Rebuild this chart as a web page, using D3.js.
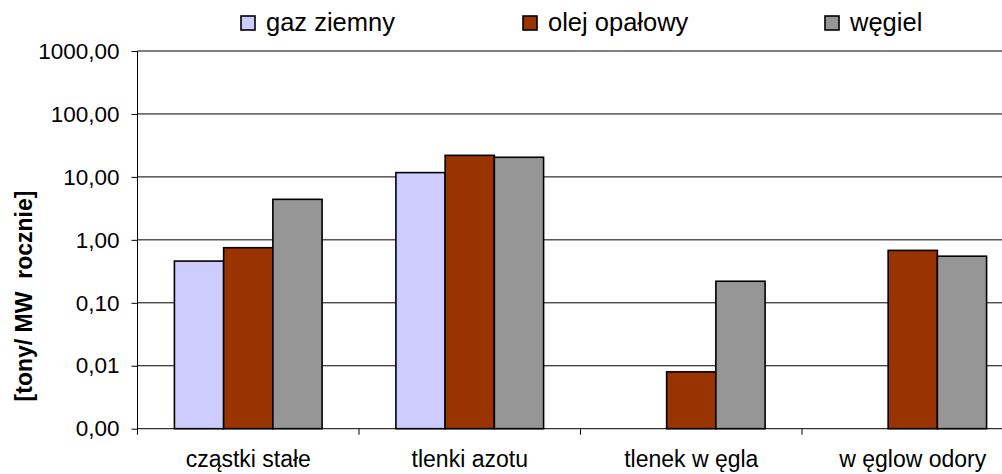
<!DOCTYPE html>
<html><head><meta charset="utf-8">
<script src="https://cdn.jsdelivr.net/npm/d3@7"></script>
<style>
html,body{margin:0;padding:0;background:#fff;overflow:hidden}
text{font-family:"Liberation Sans",Arial,sans-serif;fill:#000}
</style></head>
<body>
<script>
const categories = ["cząstki stałe", "tlenki azotu", "tlenek w ęgla", "w ęglow odory"];
const seriesNames = ["gaz ziemny", "olej opałowy", "węgiel"];
const gazZiemny = [0.46, 11.7, null, null];
const olejOpalowy = [0.75, 22.0, 0.008, 0.68];
const wegiel = [4.4, 20.5, 0.22, 0.55];
const tickValues = [0.001, 0.01, 0.1, 1, 10, 100, 1000];
const colors = ["#CCCCFF", "#993300", "#969696"];
const seriesValues = [gazZiemny, olejOpalowy, wegiel];

const W = 1002, H = 474;
const svg = d3.select("body").append("svg").attr("width", W).attr("height", H);

const plotLeft = 137.5, plotRight = 1023.5, plotTop = 51, plotBottom = 428.7;

const y = d3.scaleLog().domain([0.001, 1000]).range([plotBottom, plotTop]);
const x = d3.scaleBand().domain(categories).range([plotLeft, plotRight]).padding(0);
const bw = x.bandwidth() / 4.5;
const xs = d3.scaleBand().domain(seriesNames).range([0, bw * 3]).padding(0);

const fmt = v => d3.format(".2f")(v).replace(".", ",");

// gridlines
svg.append("g").selectAll("line").data(tickValues).join("line")
  .attr("x1", plotLeft).attr("x2", W)
  .attr("y1", d => y(d)).attr("y2", d => y(d))
  .attr("stroke", "#000").attr("stroke-width", 1);

// y axis
const yAxis = d3.axisLeft(y).tickValues(tickValues).tickFormat(fmt).tickSize(6).tickPadding(12);
const gy = svg.append("g").attr("transform", `translate(${plotLeft},0)`).call(yAxis);
gy.select(".domain").remove();
gy.selectAll(".tick line").attr("stroke", "#000");
gy.selectAll(".tick text").attr("font-size", 22.5).attr("font-family", "Liberation Sans, Arial, sans-serif").attr("fill", "#000");
svg.append("line").attr("x1", plotLeft).attr("x2", plotLeft).attr("y1", plotTop).attr("y2", plotBottom + 6).attr("stroke", "#000");

// bars
const groups = svg.append("g").selectAll("g").data(categories).join("g")
  .attr("transform", d => `translate(${x(d) + bw * 0.75},0)`);
groups.selectAll("rect")
  .data((c, i) => seriesNames.map((s, j) => ({s, j, v: seriesValues[j][i]})).filter(d => d.v != null))
  .join("rect")
  .attr("x", d => xs(d.s)).attr("width", xs.bandwidth())
  .attr("y", d => y(d.v)).attr("height", d => plotBottom - y(d.v))
  .attr("fill", d => colors[d.j]).attr("stroke", "#000").attr("stroke-width", 1.6);

// x axis
const xAxis = d3.axisBottom(x).tickSize(0).tickPadding(22);
const gx = svg.append("g").attr("transform", `translate(0,${plotBottom})`).call(xAxis);
gx.select(".domain").remove();
gx.selectAll(".tick text").attr("font-size", 23).attr("font-family", "Liberation Sans, Arial, sans-serif").attr("fill", "#000").attr("dy", "0.71em");
// category separators
svg.append("g").selectAll("line").data(categories.slice(1)).join("line")
  .attr("x1", d => x(d)).attr("x2", d => x(d))
  .attr("y1", plotBottom).attr("y2", plotBottom + 6).attr("stroke", "#000");

// y title
svg.append("text").attr("transform", "translate(32,296) rotate(-90)")
  .attr("text-anchor", "middle").attr("font-weight", "bold").attr("font-size", 23)
  .attr("xml:space", "preserve").style("white-space", "pre")
  .text("[tony/ MW  rocznie]");

// legend
const legX = [241, 523, 825];
const leg = svg.append("g").selectAll("g").data(seriesNames).join("g")
  .attr("transform", (d, i) => `translate(${legX[i]},16)`);
leg.append("rect").attr("width", 14).attr("height", 14)
  .attr("fill", (d, i) => colors[i]).attr("stroke", "#000").attr("stroke-width", 1.6);
leg.append("text").attr("x", 25).attr("y", 15).attr("font-size", 25.5).text(d => d);
</script>
</body></html>
